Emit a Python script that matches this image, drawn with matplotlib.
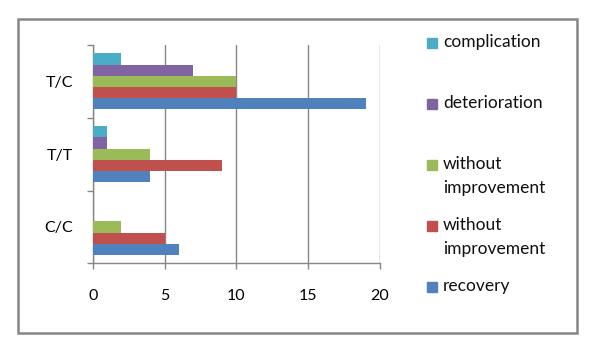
import numpy as np
import matplotlib.pyplot as plt
from matplotlib.patches import Rectangle

plt.rcParams['font.family'] = ['Lato', 'DejaVu Sans']

# data
categories = ['C/C', 'T/T', 'T/C']
series_names = ['recovery', 'without\nimprovement', 'without\nimprovement',
                'deterioration', 'complication']
recovery = [6, 4, 19]
without_impr_red = [5, 9, 10]
without_impr_green = [2, 4, 10]
deterioration = [0, 1, 7]
complication = [0, 1, 2]
series_values = [recovery, without_impr_red, without_impr_green,
                 deterioration, complication]
colors = ['#4F81BD', '#C0504D', '#9BBB59', '#8064A2', '#4BACC6']
xticks = [0, 5, 10, 15, 20]

W, H = 591, 358
fig = plt.figure(figsize=(W / 100, H / 100), dpi=100)
ax = fig.add_axes([92.7 / W, 1 - 263.3 / H, (380 - 92.7) / W, (263.3 - 45) / H])

gray = '#868686'
y = np.arange(len(categories))
h = 1 / 6.5
for i, (vals, c) in enumerate(zip(series_values, colors)):
    ax.barh(y + (i - 2) * h, vals, height=h, color=c, zorder=3)

ax.set_xlim(0, 20)
ax.set_ylim(-0.5, 2.5)
ax.set_xticks(xticks)
ax.set_yticks(y)
ax.set_yticklabels(categories)
ax.set_yticks(np.arange(-0.5, 3, 1), minor=True)
ax.tick_params(axis='y', which='major', length=0, pad=14, labelsize=11.5)
ax.tick_params(axis='y', which='minor', length=4.3, color=gray, width=1)
ax.tick_params(axis='x', length=4.3, color=gray, width=1, pad=14, labelsize=11.5)
ax.grid(axis='x', color=gray, linewidth=1, zorder=0)
for s in ['top', 'right']:
    ax.spines[s].set_visible(False)
for s in ['left', 'bottom']:
    ax.spines[s].set_color(gray)
    ax.spines[s].set_linewidth(1)

# legend, Excel style, top entry first
for k, i in enumerate(range(len(series_names) - 1, -1, -1)):
    ytop = 37.8 + k * 61
    fig.add_artist(Rectangle((427 / W, 1 - (ytop + 10) / H), 10 / W, 10 / H,
                             transform=fig.transFigure, color=colors[i]))
    fig.text(443 / W, 1 - (ytop - 3.5) / H, series_names[i], va='top', ha='left',
             fontsize=12.5, linespacing=1.6, color='#101010')

# outer frame
fig.add_artist(Rectangle((17.5 / W, 1 - 333.3 / H), (576.7 - 17.5) / W, (333.3 - 19.3) / H,
                         transform=fig.transFigure, fill=False, edgecolor=gray, linewidth=1.8))

fig.savefig('out.png', dpi=100)
